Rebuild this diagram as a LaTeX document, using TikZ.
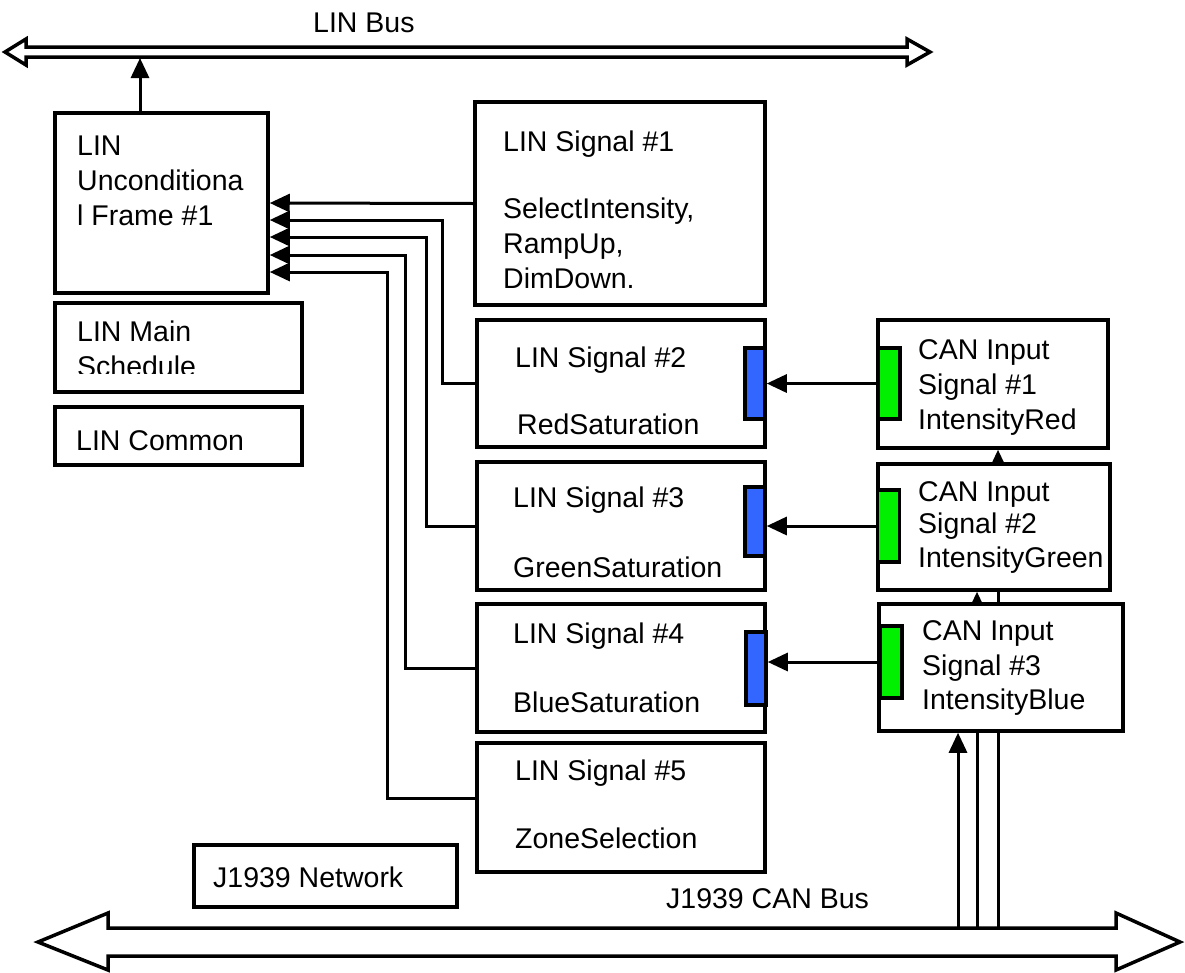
\documentclass[tikz,border=0pt]{standalone}
\usepackage{fontspec}
\setmainfont{Liberation Sans}
\usetikzlibrary{arrows.meta,backgrounds}

\begin{document}
\begin{tikzpicture}[x=1pt,y=-1pt,
    box/.style={draw,line width=3.5pt,fill=white,inner sep=0pt},
    txt/.style={font=\fontsize{28.5}{34}\selectfont,inner sep=0pt,anchor=base west},
    link/.style={line width=3pt,-{Triangle[length=20pt 0 0,width=18pt 0 0]}},
    bus/.style={line width=3.5pt,line join=miter,fill=white},
    port/.style={draw,line width=3.5pt,inner sep=0pt}]
    \useasboundingbox (0,0) rectangle (1185,972);

    % buses
    \draw[bus] (5,52) -- (26,39) -- (26,47) -- (907,47) -- (907,39) -- (930,52) -- (907,65) -- (907,57) -- (26,57) -- (26,65) -- cycle; % LIN
    \draw[bus] (38,942) -- (108,913) -- (108,928) -- (1116,928) -- (1116,913) -- (1180,942) -- (1116,970) -- (1116,956) -- (108,956) -- (108,970) -- cycle; % CAN
    \node[txt] (linbustxt) at (313,32) {LIN Bus};
    \node[txt] (canbustxt) at (666,908) {J1939 CAN Bus};
    \coordinate (linbus) at (140,58);
    \coordinate (tapA) at (958,928);
    \coordinate (tapB) at (977,928);
    \coordinate (tapC) at (998,928);

    % left column
    \node[box,minimum width=213,minimum height=180] (frame) at (161.5,203) {};
    \node[box,minimum width=247,minimum height=89] (sched) at (178.5,347.5) {};
    \node[box,minimum width=247,minimum height=58] (common) at (178.5,436) {};
    \node[box,minimum width=263,minimum height=62] (net) at (325.5,876) {};
    \node[txt] (frameA) at (77,155) {LIN};
    \node[txt] (frameB) at (77,190) {Unconditiona};
    \node[txt] (frameC) at (77,225) {l Frame \#1};
    \node[txt] (schedA) at (77,341) {LIN Main};
    \begin{scope}
        \clip (56,305) rectangle (300,373);
        \node[txt] (schedB) at (77,376) {Schedule};
    \end{scope}
    \node[txt] (commonA) at (76,450) {LIN Common};
    \node[txt] (netA) at (213,887) {J1939 Network};

    % LIN signals
    \node[box,minimum width=290,minimum height=203] (sig1) at (620,203.5) {};
    \node[box,minimum width=288,minimum height=127] (sig2) at (621,383.5) {};
    \node[box,minimum width=288,minimum height=128] (sig3) at (621,526) {};
    \node[box,minimum width=288,minimum height=128] (sig4) at (621,668) {};
    \node[box,minimum width=288,minimum height=129] (sig5) at (621,807.5) {};
    \node[txt] (sig1A) at (503,151) {LIN Signal \#1};
    \node[txt] (sig1B) at (503,218) {SelectIntensity,};
    \node[txt] (sig1C) at (503,253) {RampUp,};
    \node[txt] (sig1D) at (503,288) {DimDown.};
    \node[txt] (sig2A) at (515,367) {LIN Signal \#2};
    \node[txt] (sig2B) at (517,434) {RedSaturation};
    \node[txt] (sig3A) at (513,507) {LIN Signal \#3};
    \node[txt] (sig3B) at (513,577) {GreenSaturation};
    \node[txt] (sig4A) at (513,643) {LIN Signal \#4};
    \node[txt] (sig4B) at (513,712) {BlueSaturation};
    \node[txt] (sig5A) at (515,780) {LIN Signal \#5};
    \node[txt] (sig5B) at (515,848) {ZoneSelection};
    \node[port,fill={rgb,255:red,51;green,102;blue,255},minimum width=20,minimum height=71] (blue1) at (755,383.5) {};
    \node[port,fill={rgb,255:red,51;green,102;blue,255},minimum width=20,minimum height=69] (blue2) at (755,521.5) {};
    \node[port,fill={rgb,255:red,51;green,102;blue,255},minimum width=20,minimum height=73] (blue3) at (756,668.5) {};

    % CAN inputs
    \node[box,minimum width=230,minimum height=128] (can1) at (993,384) {};
    \node[box,minimum width=232,minimum height=126] (can2) at (994,527) {};
    \node[box,minimum width=244,minimum height=127] (can3) at (1001,667.5) {};
    \node[txt] (can1A) at (918,359) {CAN Input};
    \node[txt] (can1B) at (918,394) {Signal \#1};
    \node[txt] (can1C) at (918,429) {IntensityRed};
    \node[txt] (can2A) at (918,501) {CAN Input};
    \node[txt] (can2B) at (918,533) {Signal \#2};
    \node[txt] (can2C) at (918,567) {IntensityGreen};
    \node[txt] (can3A) at (922,640) {CAN Input};
    \node[txt] (can3B) at (922,675) {Signal \#3};
    \node[txt] (can3C) at (922,709) {IntensityBlue};
    \node[port,fill={rgb,255:red,0;green,240;blue,0},minimum width=22,minimum height=71] (green1) at (889,383.5) {};
    \node[port,fill={rgb,255:red,0;green,240;blue,0},minimum width=22,minimum height=72] (green2) at (888.5,526) {};
    \node[port,fill={rgb,255:red,0;green,240;blue,0},minimum width=22,minimum height=72] (green3) at (891,662) {};

    % connectors
    \coordinate (in2) at ([yshift=-17pt]frame.east);
    \coordinate (in3) at ([yshift=-34pt]frame.east);
    \coordinate (in4) at ([yshift=-52pt]frame.east);
    \coordinate (in5) at ([yshift=-69pt]frame.east);
    \draw[link] (linbus |- frame.north) -- (linbus);
    \draw[link] (sig1.west) -- (frame.east);
    \draw[link] (sig2.west) -- ++(-33,0) |- (in2);
    \draw[link] (sig3.west) -- ++(-49,0) |- (in3);
    \draw[link] (sig4.west) -- ++(-70,0) |- (in4);
    \draw[link] ([yshift=9.5pt]sig5.west) -- ++(-88,0) |- (in5);
    \draw[link] (green1.west) -- (green1.west -| blue1.east);
    \draw[link] (green2.west) -- (green2.west -| blue2.east);
    \draw[link] (green3.west) -- (green3.west -| blue3.east);
    \begin{scope}[on background layer]
        \draw[link] (tapA) -- (tapA |- can3.south);
        \draw[link] (tapB) -- (tapB |- can2.south);
        \draw[link] (tapC) -- (tapC |- can1.south);
    \end{scope}
\end{tikzpicture}
\end{document}
